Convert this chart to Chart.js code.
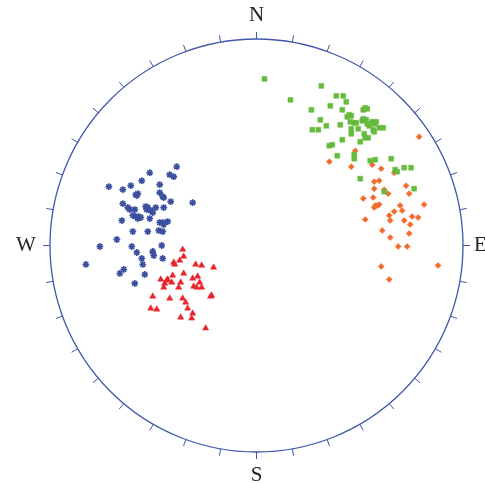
<!DOCTYPE html>
<html>
<head>
<meta charset="utf-8">
<script src="https://cdn.jsdelivr.net/npm/chart.js@4/dist/chart.umd.min.js"></script>
<style>
  html, body { margin:0; padding:0; background:#fff; }
  #wrap { width:485px; height:485px; }
</style>
</head>
<body>
<div id="wrap"><canvas id="net" width="485" height="485"></canvas></div>
<script>
/* Stereonet (lower hemisphere), projected coords, primitive radius = 207 */
const R = 207;
const dirLabels = ['N', 'E', 'S', 'W'];

const greenPts = [
  [8,167],[65,160],[34,146],[80,150],[87,150],[90,144],[74,140],[55,136],[86,136],
  [107,136],[111,137],[109,138],[93,131],[91,129],[95,130],[107,127],[106,125],[110,126],
  [64,126],[94,124],[98,123],[100,123],[84,121],[70,120],[111,122],[113,120],[116,124],
  [120,124],[118,122],[56,116],[62,116],[95,117],[95,112],[102,117],[117,116],[118,114],
  [123,118],[127,118],[108,112],[109,108],[112,108],[86,106],[104,104],[73,100],[76,101],
  [81,90],[98,91],[98,87],[114,85],[119,86],[135,87],[139,76],[141,74],[148,78],[155,78],
  [104,67],[158,57],[128,54]
];
const orangePts = [
  [163,109],[99,95],[73,84],[95,79],[116,81],[125,77],[138,73],[118,64],[123,65],
  [118,57],[128,56],[132,52],[150,60],[153,52],[107,47],[117,48],[119,40],[121,40],
  [123,41],[118,38],[144,40],[168,41],[146,35],[138,34],[133,30],[134,25],[156,29],
  [162,28],[148,25],[109,26],[154,21],[126,15],[153,12],[134,8],[142,-1],[151,-1],
  [125,-21],[182,-20],[133,-34]
];
const bluePts = [
  [-80,79],[-107,73],[-87,71],[-83,69],[-115,65],[-148,59],[-126,60],[-97,61],[-134,56],
  [-121,51],[-119,52],[-120,50],[-97,53],[-94,49],[-93,48],[-86,44],[-64,43],[-134,42],
  [-129,38],[-127,36],[-122,36],[-111,39],[-109,38],[-110,36],[-106,35],[-104,33],[-101,38],
  [-93,38],[-124,30],[-121,29],[-118,29],[-116,28],[-119,27],[-107,27],[-135,25],[-97,23],
  [-94,23],[-89,24],[-93,21],[-124,14],[-109,14],[-98,15],[-94,14],[-140,6],[-157,-1],
  [-125,-1],[-95,0],[-120,-7],[-104,-6],[-103,-10],[-94,-13],[-115,-13],[-114,-19],
  [-171,-19],[-133,-24],[-137,-28],[-112,-29],[-122,-38]
];
const redPts = [
  [-74,-4],[-73,-11],[-83,-17],[-82,-19],[-77,-15],[-61,-19],[-55,-20],[-43,-22],[-104,-6],
  [-84,-30],[-73,-28],[-64,-33],[-59,-31],[-96,-34],[-90,-35],[-89,-34],[-92,-38],[-85,-37],
  [-76,-37],[-57,-37],[-63,-41],[-60,-42],[-55,-42],[-78,-42],[-93,-42],[-45,-50],[-46,-51],
  [-104,-51],[-87,-53],[-74,-53],[-71,-57],[-106,-63],[-100,-64],[-69,-63],[-64,-68],
  [-76,-72],[-65,-73],[-51,-83]
];

const toXY = (arr) => arr.map(p => ({ x:p[0], y:p[1] }));

// primitive circle, 10° ticks and N/E/S/W labels
const netFrame = {
  id:'netFrame',
  beforeDatasetsDraw(chart) {
    const { ctx, scales:{ x, y } } = chart;
    const cx = x.getPixelForValue(0), cy = y.getPixelForValue(0);
    const r = x.getPixelForValue(R) - cx;
    ctx.save();
    ctx.strokeStyle = '#4057ab';
    ctx.lineWidth = 1.3;
    ctx.beginPath(); ctx.arc(cx, cy, r, 0, Math.PI*2); ctx.stroke();
    ctx.lineWidth = 1;
    for (let a = 0; a < 360; a += 10) {
      const t = a*Math.PI/180;
      const sx = Math.sin(t), sy = -Math.cos(t);
      ctx.beginPath();
      ctx.moveTo(cx + sx*r, cy + sy*r);
      ctx.lineTo(cx + sx*(r+7), cy + sy*(r+7));
      ctx.stroke();
    }
    ctx.fillStyle = '#222';
    ctx.font = '21px "Liberation Serif", "DejaVu Serif", serif';
    ctx.textBaseline = 'middle';
    // N, S, W centred; E sits close to the rim (clipped by the page edge)
    ctx.textAlign = 'center';
    ctx.fillText(dirLabels[0], cx, cy - r - 24);
    ctx.fillText(dirLabels[2], cx, cy + r + 23);
    ctx.fillText(dirLabels[3], cx - r - 24, cy);
    ctx.textAlign = 'left';
    ctx.fillText(dirLabels[1], cx + r + 11, cy);
    ctx.restore();
  }
};

new Chart(document.getElementById('net'), {
  type:'scatter',
  data:{ datasets:[
    { label:'Set 4', data:toXY(redPts), pointStyle:'triangle', pointRadius:3.6,
      backgroundColor:'#e8262c', borderColor:'#e8262c', borderWidth:0.5, order:4 },
    { label:'Set 3', data:toXY(bluePts), pointStyle:'star', pointRadius:3.4,
      backgroundColor:'#3a4f9f', borderColor:'#3a4f9f', borderWidth:1.6, order:3 },
    { label:'Set 2', data:toXY(orangePts), pointStyle:'rectRot', pointRadius:3,
      backgroundColor:'#f26b2c', borderColor:'#f26b2c', borderWidth:0.5, order:2 },
    { label:'Set 1', data:toXY(greenPts), pointStyle:'rect', pointRadius:3.5,
      backgroundColor:'#66bb3e', borderColor:'#66bb3e', borderWidth:0.5, order:1 },
  ]},
  options:{ responsive:false, animation:false,
    layout:{ padding:{ left:50, right:22, top:39, bottom:33 } },
    plugins:{ legend:{display:false}, tooltip:{enabled:false} },
    scales:{
      x:{ type:'linear', min:-R, max:R, display:false },
      y:{ type:'linear', min:-R, max:R, display:false }
    } },
  plugins:[netFrame]
});
</script>
</body>
</html>
